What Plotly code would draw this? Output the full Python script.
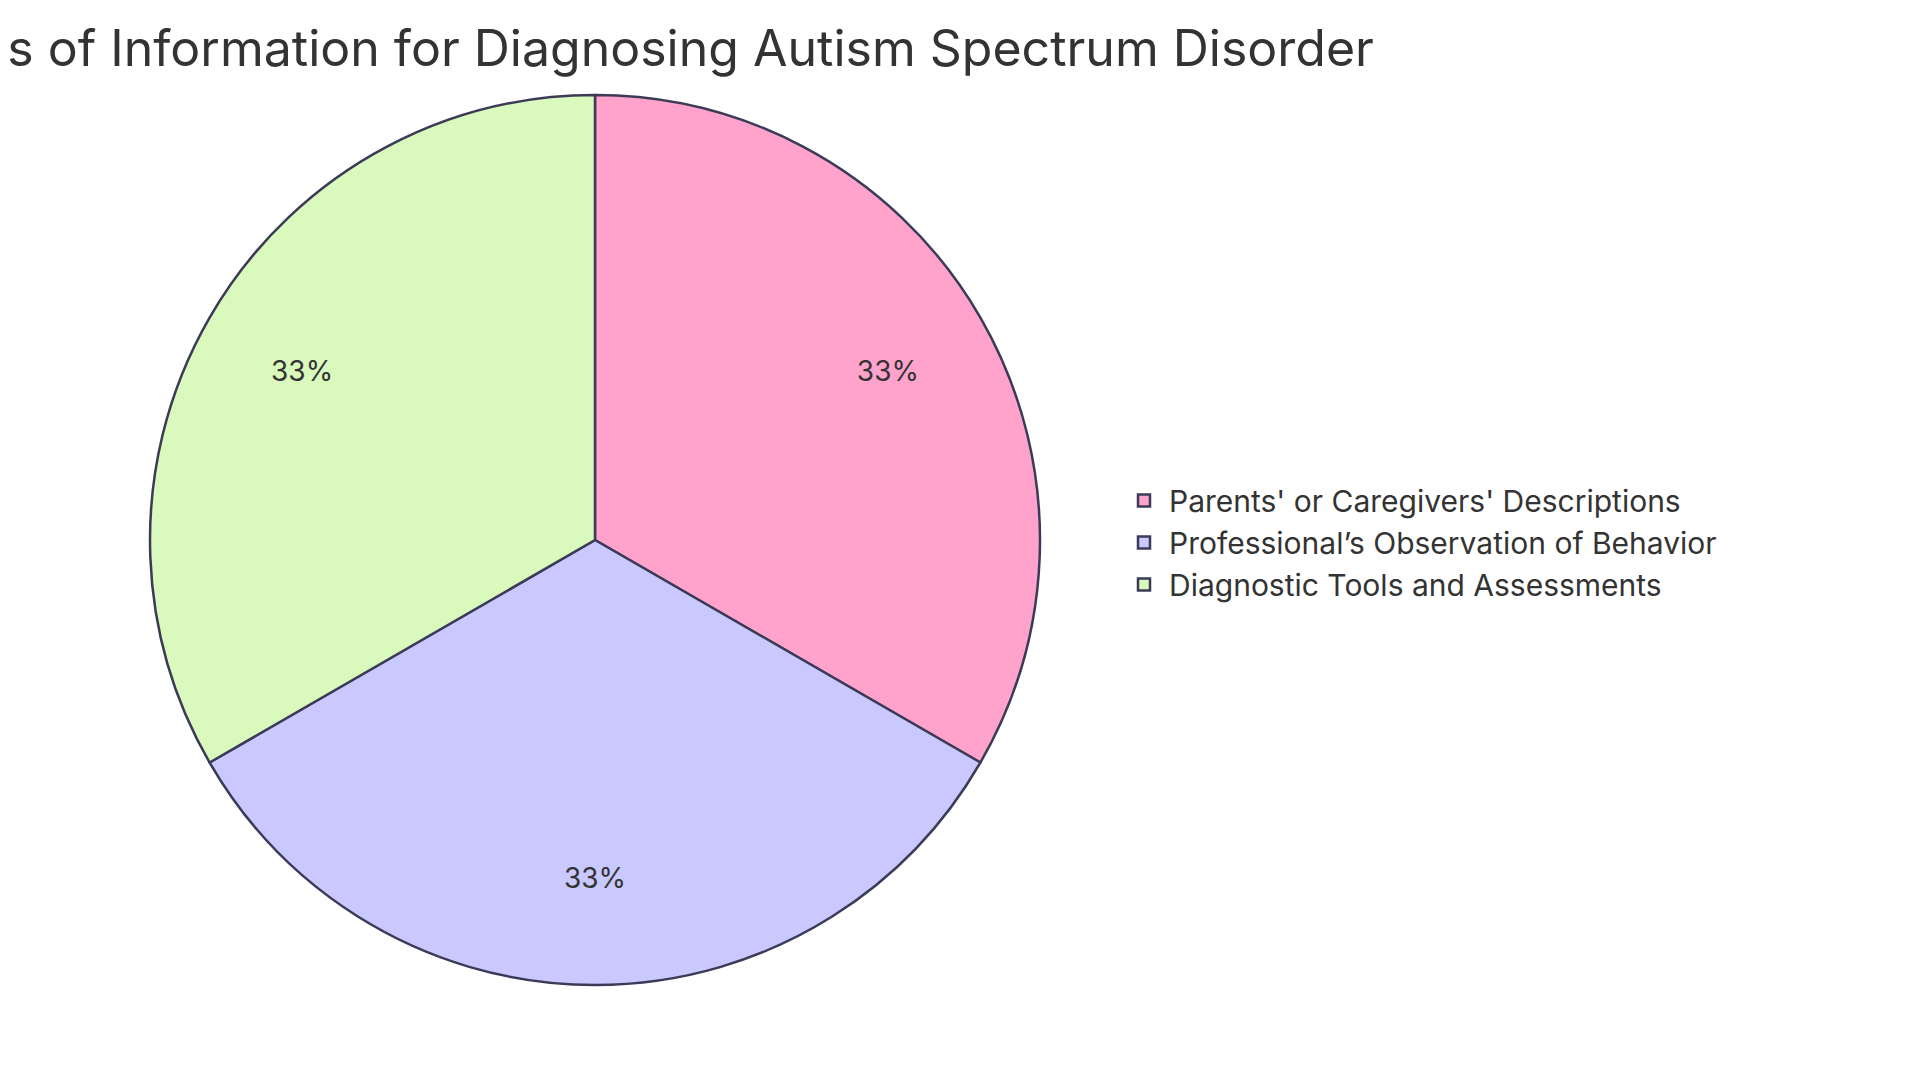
import plotly.graph_objects as go

labels = ["Parents' or Caregivers' Descriptions",
          "Professional’s Observation of Behavior",
          "Diagnostic Tools and Assessments"]
values = [1, 1, 1]
colors = ["#FFA3CC", "#C9C9FF", "#DAF9BC"]

dom = dict(x=[142/1920, 1032/1920], y=[1-977/1080, 1-87/1080])

fig = go.Figure()
fig.add_trace(go.Pie(
    labels=labels,
    values=values,
    sort=False,
    direction="clockwise",
    rotation=0,
    marker=dict(colors=colors, line=dict(color="#3b3b58", width=2.5)),
    textinfo="none",
    domain=dom,
    hoverinfo="label+percent",
))
# text-only ring so the percent labels sit further out, like the reference
fig.add_trace(go.Pie(
    labels=["a", "b", "c"],
    values=values,
    sort=False,
    direction="clockwise",
    rotation=0,
    hole=0.52,
    marker=dict(colors=["rgba(0,0,0,0)"] * 3, line=dict(width=0)),
    texttemplate="%{percent:.0%}",
    textposition="inside",
    insidetextorientation="horizontal",
    textfont=dict(size=28, color="#333333", family="Inter"),
    domain=dom,
    hoverinfo="skip",
    showlegend=False,
))

fig.update_layout(
    width=1920, height=1080,
    paper_bgcolor="white",
    margin=dict(l=0, r=0, t=0, b=0),
    font=dict(family="Inter", color="#333333"),
    showlegend=True,
    legend=dict(x=1111/1920, y=0.505, xanchor="left", yanchor="middle",
                font=dict(size=30, color="#333333"), itemwidth=40),
    annotations=[dict(
        text="Sources of Information for Diagnosing Autism Spectrum Disorder",
        x=1368/1920, y=1-40/1080, xref="paper", yref="paper",
        xanchor="right", yanchor="middle", showarrow=False,
        font=dict(size=50, color="#333333", family="Inter"),
    )],
)

fig.write_html("out.html")
